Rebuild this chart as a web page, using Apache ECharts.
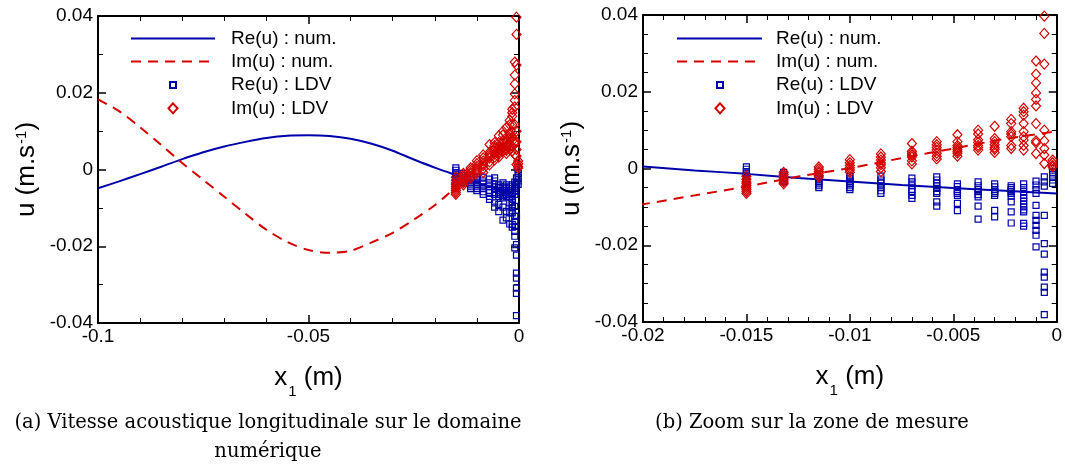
<!DOCTYPE html>
<html>
<head>
<meta charset="utf-8">
<script src="https://cdn.jsdelivr.net/npm/echarts@6/dist/echarts.min.js"></script>
<style>
html,body{margin:0;padding:0;background:#fff;}
#c{width:1065px;height:469px;}
</style>
</head>
<body>
<div id="c"></div>
<script>
// ---- numerical solution ----
var numX  = [-0.1, -0.095, -0.09, -0.085, -0.08, -0.075, -0.07, -0.065, -0.06, -0.055, -0.05, -0.045, -0.04, -0.035, -0.03, -0.025, -0.02, -0.0175, -0.015, -0.0125, -0.01, -0.0075, -0.005, -0.0025, 0];
var reNum = [-0.0049, -0.0031, -0.0012, 0.0007, 0.0027, 0.0045, 0.006, 0.0072, 0.0082, 0.0088, 0.0089, 0.0087, 0.008, 0.0067, 0.0049, 0.0026, 0.0005, -0.0005, -0.0014, -0.0025, -0.0034, -0.0043, -0.0051, -0.0058, -0.0065];
var imNum = [0.0183, 0.0152, 0.011, 0.0064, 0.0017, -0.0027, -0.0071, -0.0115, -0.0157, -0.0189, -0.021, -0.0217, -0.0212, -0.019, -0.0165, -0.0131, -0.0093, -0.007, -0.0047, -0.0021, 0.0001, 0.0027, 0.0052, 0.0077, 0.0097];

// ---- LDV measurements: one column of values per measurement position ----
var ldvX = [-0.015, -0.0132, -0.0115, -0.01, -0.0085, -0.007, -0.0058, -0.0048, -0.0038, -0.003, -0.0022, -0.0016, -0.001, -0.0006, -0.0002];
var reLDV = [
  [0.0004, -0.0002, -0.0008, -0.0014, -0.002, -0.0026, -0.003, -0.0035],
  [-0.001, -0.0015, -0.002, -0.0025, -0.003, -0.0035],
  [-0.0025, -0.003, -0.0035, -0.004, -0.0045, -0.005],
  [-0.002, -0.0025, -0.003, -0.0035, -0.004, -0.0045, -0.005, -0.0055],
  [-0.002, -0.003, -0.0038, -0.0045, -0.005, -0.0058, -0.0065],
  [-0.0025, -0.0035, -0.0045, -0.0055, -0.006, -0.007, -0.0078],
  [-0.0022, -0.003, -0.0038, -0.0045, -0.0052, -0.006, -0.0065, -0.0087, -0.0098],
  [-0.004, -0.0047, -0.0055, -0.006, -0.0065, -0.007, -0.0091, -0.011],
  [-0.0035, -0.0045, -0.0055, -0.006, -0.0068, -0.0074, -0.0098, -0.0132],
  [-0.004, -0.0048, -0.0055, -0.006, -0.0065, -0.007, -0.0109, -0.0126],
  [-0.0045, -0.005, -0.0055, -0.006, -0.0065, -0.0072, -0.0087, -0.0113, -0.0142],
  [-0.004, -0.005, -0.006, -0.007, -0.0078, -0.0085, -0.0092, -0.01, -0.0108, -0.0113, -0.0143, -0.015],
  [-0.0033, -0.0043, -0.0055, -0.0065, -0.0096, -0.0122, -0.0135, -0.0148, -0.0161, -0.0174, -0.0204],
  [-0.0022, -0.0035, -0.0046, -0.0122, -0.0196, -0.0223, -0.027, -0.0283, -0.0309, -0.0323, -0.0381],
  [0, -0.001, -0.002, -0.003, -0.0039]
];
var imLDV = [
  [-0.002, -0.0028, -0.0035, -0.004, -0.0045, -0.005, -0.0055, -0.006, -0.0065],
  [-0.001, -0.0015, -0.002, -0.0025, -0.003, -0.0035, -0.004],
  [0.0004, -0.0002, -0.0008, -0.0012, -0.0018, -0.0022],
  [0.0023, 0.0015, 0.0008, 0.0002, -0.0004, -0.001],
  [0.0038, 0.003, 0.0022, 0.0015, 0.001, 0.0002, -0.0008],
  [0.0065, 0.0045, 0.004, 0.0035, 0.003, 0.002, 0.0012],
  [0.007, 0.0062, 0.0055, 0.0048, 0.004, 0.0032, 0.0025],
  [0.0088, 0.007, 0.006, 0.0055, 0.005, 0.0045, 0.004, 0.0032],
  [0.01, 0.009, 0.0075, 0.0068, 0.006, 0.0055, 0.0048],
  [0.011, 0.0078, 0.007, 0.0062, 0.0055, 0.005, 0.0042],
  [0.0128, 0.0117, 0.0096, 0.009, 0.0083, 0.006, 0.0052],
  [0.0157, 0.0148, 0.0139, 0.0117, 0.0096, 0.0083, 0.0074, 0.006, 0.0048],
  [0.028, 0.0246, 0.0223, 0.0197, 0.018, 0.0163, 0.0117, 0.0072, 0.0067, 0.0039],
  [0.0397, 0.0352, 0.0272, 0.01, 0.0072, 0.0052, 0.0035, 0.0013],
  [0.0022, 0.0015, 0.0008, 0.0004]
];

// ---- axis ranges / ticks ----
var xRangeA = [-0.1, 0, 0.05, 5];     // min, max, interval, minor splits
var xRangeB = [-0.02, 0, 0.005, 5];
var yRangeA = [-0.04, 0.04, 0.02, 2];
var yRangeB = [-0.04, 0.04, 0.02, 4];

var seriesNames = ['Re(u) : num.', 'Im(u) : num.', 'Re(u) : LDV', 'Im(u) : LDV'];
var captionA = '(a) Vitesse acoustique longitudinale sur le domaine\nnumérique';
var captionB = '(b) Zoom sur la zone de mesure';

// ---- build library data ----
function pairs(xs, ys) { return xs.map(function (x, i) { return [x, ys[i]]; }); }
function flat(xs, cols) {
  var out = [];
  cols.forEach(function (col, i) { col.forEach(function (v) { out.push([xs[i], v]); }); });
  return out;
}
var reNumData = pairs(numX, reNum), imNumData = pairs(numX, imNum);
var reLdvData = flat(ldvX, reLDV), imLdvData = flat(ldvX, imLDV);

var BLUE = '#0000aa', RED = '#d40000';
var SANS = 'Liberation Sans, Arial, sans-serif';
var fmt = function (v) { return String(+(+v).toFixed(4)); };

function makeAxis(kind, grid, r, pos, labels) {
  return {
    type: 'value', gridIndex: grid, min: r[0], max: r[1], interval: r[2], position: pos,
    axisLine: { show: true, onZero: false, lineStyle: { color: '#000', width: 2 } },
    axisTick: { show: true, inside: true, length: 8, lineStyle: { color: '#000', width: 1.5 } },
    minorTick: { show: true, splitNumber: r[3], length: 5, lineStyle: { color: '#000', width: 1 } },
    splitLine: { show: false }, minorSplitLine: { show: false },
    axisLabel: { show: labels, fontSize: 19, color: '#000', fontFamily: SANS, margin: kind === 'x' ? 4 : 5, formatter: fmt }
  };
}

var xAxes = [], yAxes = [];
[[xRangeA, yRangeA], [xRangeB, yRangeB]].forEach(function (p, g) {
  var xb = makeAxis('x', g, p[0], 'bottom', true);
  xb.name = '{a|x}{s|1}{a| (m)}';
  xb.nameLocation = 'middle';
  xb.nameGap = 42;
  xb.nameTextStyle = { color: '#000', rich: {
    a: { fontSize: 26, fontFamily: SANS, color: '#000', lineHeight: 30, verticalAlign: 'top' },
    s: { fontSize: 15, fontFamily: SANS, color: '#000', lineHeight: 15, verticalAlign: 'top', padding: [19, 0, 0, 1] }
  } };
  xAxes.push(xb);
  xAxes.push(makeAxis('x', g, p[0], 'top', false));
  var yl = makeAxis('y', g, p[1], 'left', true);
  yl.name = '{a|u (m.s}{s|-1}{a|)}';
  yl.nameLocation = 'middle';
  yl.nameRotate = 90;
  yl.nameGap = 54;
  yl.nameTextStyle = { color: '#000', rich: {
    a: { fontSize: 26, fontFamily: SANS, color: '#000', lineHeight: 30, verticalAlign: 'top' },
    s: { fontSize: 15, fontFamily: SANS, color: '#000', lineHeight: 15, verticalAlign: 'top', padding: [0, 0, 0, 1] }
  } };
  yAxes.push(yl);
  yAxes.push(makeAxis('y', g, p[1], 'right', false));
});

var series = [];
[0, 1].forEach(function (g) {
  var xi = g * 2, yi = g * 2;
  series.push({ name: seriesNames[0], type: 'line', xAxisIndex: xi, yAxisIndex: yi, data: reNumData,
    symbol: 'none', smooth: 0.3, lineStyle: { color: BLUE, width: 2 }, itemStyle: { color: BLUE }, z: 2 });
  series.push({ name: seriesNames[1], type: 'line', xAxisIndex: xi, yAxisIndex: yi, data: imNumData,
    symbol: 'none', smooth: 0.3, lineStyle: { color: RED, width: 2, type: [10, 7] }, itemStyle: { color: RED }, z: 2 });
  series.push({ name: seriesNames[2], type: 'scatter', xAxisIndex: xi, yAxisIndex: yi, data: reLdvData,
    symbol: 'rect', symbolSize: [6, 6],
    itemStyle: { color: 'rgba(0,0,0,0)', borderColor: BLUE, borderWidth: 1.2, opacity: 1 }, z: 3 });
  series.push({ name: seriesNames[3], type: 'scatter', xAxisIndex: xi, yAxisIndex: yi, data: imLdvData,
    symbol: 'diamond', symbolSize: [9, 10],
    itemStyle: { color: 'rgba(0,0,0,0)', borderColor: RED, borderWidth: 1.2, opacity: 1 }, z: 4 });
});

function legend(names, left, top, w, h, padLeft, hideSymbol) {
  var l = { data: names, orient: 'vertical', left: left, top: top, itemWidth: w, itemHeight: h,
    itemGap: 0, padding: 0, selectedMode: false,
    textStyle: { fontSize: 19, lineHeight: 23, fontFamily: SANS, color: '#000', padding: [0, 0, 0, padLeft] } };
  if (hideSymbol) l.itemStyle = { color: 'rgba(0,0,0,0)', borderColor: 'rgba(0,0,0,0)', borderWidth: 0 };
  return l;
}
var legends = [
  legend(seriesNames.slice(0, 2), 130, 27, 84, 14, 11, true),
  legend([seriesNames[2]], 169, 73.5, 6, 6, 50),
  legend([seriesNames[3]], 167.5, 96.8, 9, 10, 48.5),
  legend(seriesNames.slice(0, 2), 676, 27, 85, 14, 9, true),
  legend([seriesNames[2]], 716, 73.5, 6, 6, 48),
  legend([seriesNames[3]], 714.5, 96.8, 9, 10, 46.5)
];

var chart = echarts.init(document.getElementById('c'), null, { renderer: 'canvas' });
chart.setOption({
  animation: false,
  backgroundColor: '#fff',
  grid: [
    { left: 98, top: 16, width: 421, height: 307, containLabel: false },
    { left: 643, top: 15, width: 420, height: 307, containLabel: false }
  ],
  xAxis: xAxes,
  yAxis: yAxes,
  legend: legends,
  series: series,
  graphic: [
    { type: 'text', x: 268, y: 408.5, style: { text: captionA, align: 'center', verticalAlign: 'top',
      fontFamily: 'DejaVu Serif', fontSize: 19.5, lineHeight: 29, fill: '#000' } },
    { type: 'text', x: 812, y: 408.5, style: { text: captionB, align: 'center', verticalAlign: 'top',
      fontFamily: 'DejaVu Serif', fontSize: 19.5, lineHeight: 29, fill: '#000' } }
  ]
});
</script>
</body>
</html>
